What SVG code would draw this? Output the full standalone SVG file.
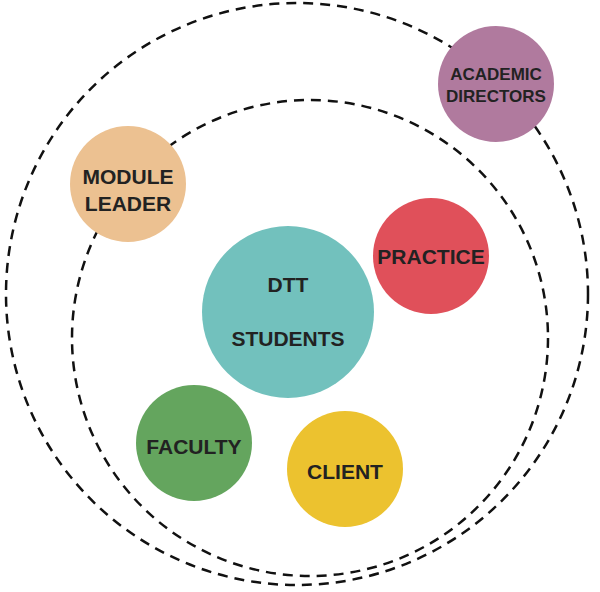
<svg xmlns="http://www.w3.org/2000/svg" width="600" height="592" viewBox="0 0 600 592">
<style>
.ring{fill:none;stroke:#111;stroke-width:2.5;stroke-dasharray:10 7}
text{font-family:"Liberation Sans",Arial,sans-serif;font-weight:bold;font-size:21px;fill:#222;text-anchor:middle}
.s{font-size:17px}
</style>
<rect width="600" height="592" fill="#fff"/>
<g id="connectors">
<circle class="ring" cx="297" cy="294" r="291"/>
<circle class="ring" cx="310" cy="338" r="238"/>
</g>
<g id="academic"><circle cx="496" cy="84" r="58" fill="#b07a9e"/><text class="s" x="496" y="80">ACADEMIC</text><text class="s" x="496" y="102">DIRECTORS</text></g>
<g id="module"><circle cx="128" cy="184" r="58" fill="#ecc191"/><text x="128" y="184">MODULE</text><text x="128" y="211">LEADER</text></g>
<g id="practice"><circle cx="431" cy="256" r="58" fill="#e0505a"/><text x="431" y="264">PRACTICE</text></g>
<g id="dtt"><circle cx="288" cy="312" r="86" fill="#72c1bd"/><text x="288" y="292">DTT</text><text x="288" y="346">STUDENTS</text></g>
<g id="faculty"><circle cx="194" cy="443" r="58" fill="#64a55e"/><text x="194" y="454">FACULTY</text></g>
<g id="client"><circle cx="345" cy="469" r="58" fill="#ecc22f"/><text x="345" y="479">CLIENT</text></g>
</svg>
